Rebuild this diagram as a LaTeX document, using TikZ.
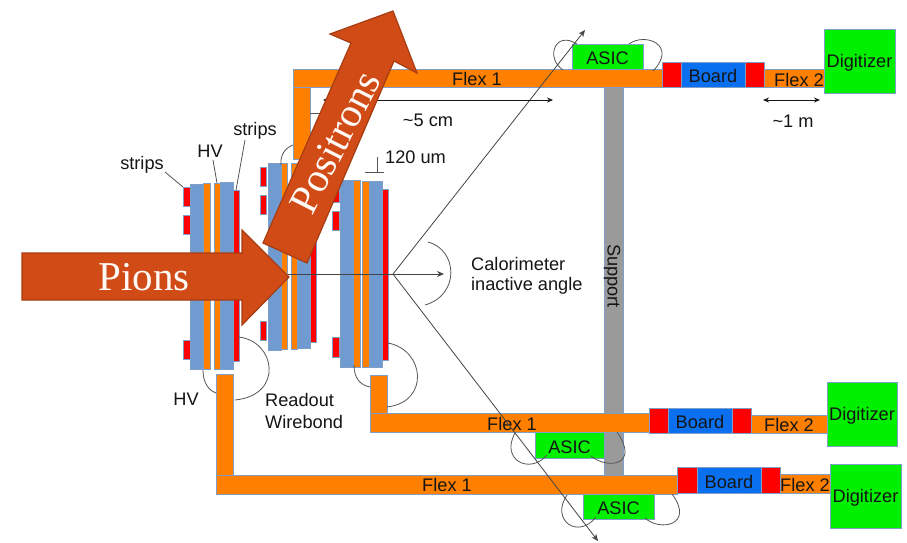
\documentclass[tikz,border=0pt]{standalone}
\usepackage{fontspec}
\setmainfont{Liberation Sans}
\newfontfamily\serifbig{Liberation Serif}
\usetikzlibrary{arrows.meta,fit}
\definecolor{edgeb}{HTML}{7F9FC9}
\definecolor{detblue}{HTML}{6F9BD0}
\definecolor{flexor}{HTML}{FF8000}
\definecolor{stripred}{HTML}{FF0000}
\definecolor{chipgreen}{HTML}{00F000}
\definecolor{boardblue}{HTML}{0A70F0}
\definecolor{supgray}{HTML}{9A9A9A}
\definecolor{arrfill}{HTML}{D14B17}
\definecolor{arredge}{HTML}{A63C12}
\definecolor{wire}{HTML}{555555}
\definecolor{ink}{HTML}{151515}
\tikzset{
  rectn/.style={draw=edgeb,line width=0.7pt,inner sep=0pt,outer sep=0pt,text=ink,font=\fontsize{18.2}{20}\selectfont},
  det/.style={rectn,fill=detblue},
  flex/.style={rectn,fill=flexor},
  strip/.style={rectn,fill=stripred},
  chip/.style={rectn,fill=chipgreen},
  brd/.style={rectn,fill=boardblue},
  sup/.style={rectn,fill=supgray},
  lab/.style={text=ink,inner sep=0pt,font=\fontsize{18.2}{20}\selectfont},
  bond/.style={draw=wire,line width=0.8pt},
  leader/.style={draw=wire,line width=0.8pt},
  dimarrow/.style={draw=ink,line width=0.8pt,{Stealth[length=6pt,width=5pt]}-{Stealth[length=6pt,width=5pt]}},
  ray/.style={draw=wire!80!black,line width=0.8pt,-{Stealth[length=7pt,width=6pt]}},
  bigarrow/.style={fill=arrfill,draw=arredge,line width=1.2pt,line join=miter},
  bigtext/.style={text=white!96!orange,inner sep=0pt,font=\serifbig\fontsize{41}{46}\selectfont}
}
\newcommand{\rbox}[6]{\node[#5,fit={(#1,#2) (#3,#4)}] (#6) {};}
\newcommand{\tbox}[7]{\node[#5,fit={(#1,#2) (#3,#4)}] (#6) {};\node[lab,yshift=-1.8pt] at (#6.center) {#7};}
\begin{document}
\begin{tikzpicture}[x=1pt,y=-1pt]
\useasboundingbox (0,0) rectangle (907,542);
\fill[white] (0,0) rectangle (907,542);
% support
\rbox{604}{86}{623}{476}{sup}{support}
\node[lab,rotate=-90] at (612,276) {Support};
% detector 1
\rbox{190}{184}{203}{369}{det}{aA}
\rbox{203}{183}{210}{369}{flex}{aB}
\rbox{214}{183}{220}{369}{flex}{aC}
\rbox{220}{182}{233}{369}{det}{aD}
\rbox{233}{190}{239}{361}{strip}{aE}
\rbox{183}{187}{190}{206}{strip}{aF}
\rbox{183}{215}{190}{234}{strip}{aG}
\rbox{183}{340}{190}{359}{strip}{aH}
% detector 2
\rbox{268}{163}{281}{350}{det}{bA}
\rbox{281}{163}{287}{349}{flex}{bB}
\rbox{291}{163}{297}{349}{flex}{bC}
\rbox{297}{163}{310}{348}{det}{bD}
\rbox{310}{172}{316}{342}{strip}{bE}
\rbox{260}{167}{266}{186}{strip}{bF}
\rbox{260}{195}{266}{214}{strip}{bG}
\rbox{260}{321}{266}{340}{strip}{bH}
% detector 3
\rbox{340}{180}{353}{367}{det}{cA}
\rbox{353}{180}{360}{367}{flex}{cB}
\rbox{362}{181}{369}{367}{flex}{cC}
\rbox{369}{181}{382}{367}{det}{cD}
\rbox{382}{189}{388}{360}{strip}{cE}
\rbox{332}{183}{339}{202}{strip}{cF}
\rbox{332}{211}{339}{230}{strip}{cG}
\rbox{332}{337}{339}{357}{strip}{cH}
% top flex
\rbox{293}{87}{310}{159}{flex}{topV}
\tbox{293}{69}{662}{87}{flex}{topH}{}
\node[lab] at (477,79) {Flex 1};
\tbox{572}{44}{643}{69}{chip}{topA}{ASIC}
\tbox{764}{69}{824}{87}{flex}{topF}{}
\node[lab] at (799,80) {Flex 2};
\rbox{662}{62}{681}{87}{strip}{topRa}
\tbox{681}{62}{745}{87}{brd}{topB}{Board}
\rbox{745}{62}{764}{87}{strip}{topRb}
\tbox{824}{29}{895}{93}{chip}{topD}{Digitizer}
% middle flex
\rbox{370}{375}{387}{413}{flex}{midV}
\tbox{370}{413}{649}{432}{flex}{midH}{}
\node[lab] at (512,424) {Flex 1};
\tbox{535}{432}{604}{458}{chip}{midA}{ASIC}
\tbox{751}{415}{827}{433}{flex}{midF}{}
\node[lab] at (789,425) {Flex 2};
\rbox{649}{408}{668}{433}{strip}{midRa}
\tbox{668}{408}{732}{433}{brd}{midB}{Board}
\rbox{732}{408}{751}{433}{strip}{midRb}
\tbox{827}{382}{897}{446}{chip}{midD}{Digitizer}
% lower flex
\rbox{216}{374}{233}{475}{flex}{lowV}
\tbox{216}{475}{677}{494}{flex}{lowH}{}
\node[lab] at (447,485) {Flex 1};
\tbox{583}{494}{654}{519}{chip}{lowA}{ASIC}
\tbox{780}{474}{830}{493}{flex}{lowF}{}
\node[lab] at (805,485) {Flex 2};
\rbox{677}{467}{697}{493}{strip}{lowRa}
\tbox{697}{467}{761}{493}{brd}{lowB}{Board}
\rbox{761}{467}{780}{493}{strip}{lowRb}
\tbox{830}{464}{901}{528}{chip}{lowD}{Digitizer}
% wire bonds
\draw[bond] (238,337) .. controls (275,340) and (285,395) .. (235,400);
\draw[bond] (203,370) .. controls (203,382) and (208,390) .. (216,393);
\draw[bond] (388,343) .. controls (425,350) and (430,402) .. (387,407);
\draw[bond] (354,365) .. controls (354,378) and (360,385) .. (370,387);
\draw[bond] (281,165) .. controls (280,155) and (285,148) .. (293,145);
\draw[bond] (310,113) -- (332,113);
\draw[bond] (563,70) .. controls (545,58) and (555,30) .. (577,44);
\draw[bond] (629,44) .. controls (645,32) and (678,45) .. (653,71);
\draw[bond] (515,433) .. controls (500,460) and (530,475) .. (547,455);
\draw[bond] (591,456) .. controls (608,470) and (640,465) .. (617,432);
\draw[bond] (567,495) .. controls (550,520) and (578,540) .. (596,517);
\draw[bond] (645,518) .. controls (660,532) and (695,525) .. (672,494);
% rays
\coordinate (vertex) at (393,274);
\coordinate (beamstart) at (288,274);
\coordinate (beamend) at (444,274);
\coordinate (rayup) at (585,30);
\coordinate (raydown) at (598,541);
\draw[ray] (beamstart) -- (beamend);
\draw[ray] (vertex) -- (rayup);
\draw[ray] (vertex) -- (raydown);
\draw[bond] (428,242) .. controls (458,250) and (460,295) .. (425,305);
% dimension arrows
\coordinate (fiveL) at (323,100);
\coordinate (fiveR) at (553,100);
\coordinate (oneL) at (763,100);
\coordinate (oneR) at (820,100);
\draw[dimarrow] (fiveL) -- (fiveR);
\draw[dimarrow] (oneL) -- (oneR);
\node[lab] (fivecm) at (428,120.5) {\textasciitilde5 cm};
\node[lab] (onem) at (793,121) {\textasciitilde1 m};
% labels and leaders
\node[lab] (stripsR) at (255,131) {strips};
\node[lab] (hvT) at (210,151) {HV};
\node[lab] (stripsL) at (142,165) {strips};
\coordinate (p1) at (245,140);
\coordinate (p2) at (213,160);
\coordinate (p3) at (165,172);
\draw[leader] (p1) -- (aE.north);
\draw[leader] (p2) -- (aC.north);
\draw[leader] (p3) -- (aF.north west);
\node[lab,anchor=west] (um) at (385,157) {120 um};
\coordinate (tTop) at (377,157);
\coordinate (tMid) at (377,172);
\coordinate (tL) at (365,172);
\coordinate (tR) at (384,172);
\draw[leader] (tTop) -- (tMid);
\draw[leader] (tL) -- (tR);
\node[lab,anchor=west] (calA) at (471,264) {Calorimeter};
\node[lab,anchor=west] (calB) at (471,286) {inactive angle};
\node[lab] (hvB) at (186,399) {HV};
\node[lab,anchor=west] (roA) at (265,400) {Readout};
\node[lab,anchor=west] (roB) at (265,422) {Wirebond};
% big arrows
\draw[bigarrow] (22,253) -- (242,253) -- (242,230) -- (289,277) -- (242,325) -- (242,300) -- (22,300) -- cycle;
\node[bigtext] (pions) at (144,277) {Pions};
\draw[bigarrow] (263,243) -- (351,43) -- (330,34) -- (393,11) -- (417,73) -- (394,61) -- (307,263) -- cycle;
\node[bigtext,rotate=63] (pos) at (335,142) {Positrons};
\end{tikzpicture}
\end{document}
